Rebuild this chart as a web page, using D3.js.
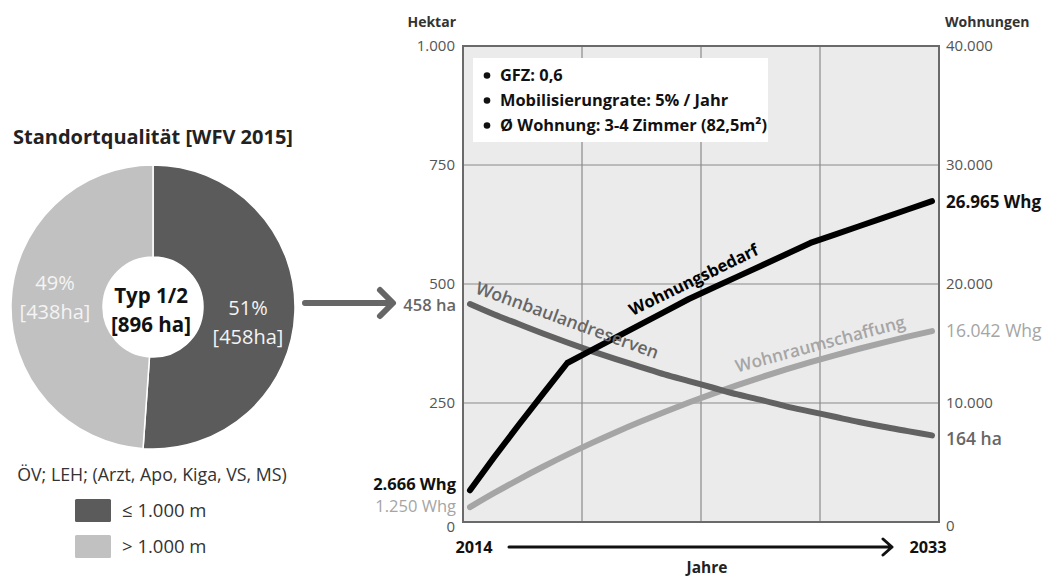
<!DOCTYPE html>
<html><head><meta charset="utf-8">
<script src="https://cdn.jsdelivr.net/npm/d3@7"></script>
<style>
body{margin:0;background:#fff;}
svg{display:block;font-family:"Open Sans",sans-serif;}
</style></head>
<body><svg id="c" width="1048" height="579"></svg>
<script>
// ---------- data ----------
const pieCategories = ["≤ 1.000 m", "> 1.000 m"];
const pieValues = [458, 438];
const piePercents = ["51%", "49%"];
const pieColors = ["#5b5b5b", "#c1c1c1"];

const years = d3.range(2014, 2034);
const wohnungsbedarf = [2666, 5460, 8150, 10760, 13360, 14440, 15510, 16590, 17660, 18740,
                        19680, 20620, 21560, 22500, 23450, 24150, 24850, 25550, 26260, 26965];
const wohnraumschaffung = [1250, 2440, 3570, 4640, 5660, 6630, 7550, 8420, 9250, 10040,
                           10790, 11500, 12180, 12820, 13430, 14010, 14560, 15080, 15580, 16042];
const wohnbaulandreserven = [458, 436, 416, 396, 377, 359, 342, 326, 310, 296,
                             282, 268, 256, 243, 232, 221, 210, 200, 191, 182];
const hektarTicks = [0, 250, 500, 750, 1000];
const wohnungenTicks = [0, 10000, 20000, 30000, 40000];
const notes = ["GFZ: 0,6", "Mobilisierungrate: 5% / Jahr", "Ø Wohnung: 3-4 Zimmer (82,5m²)"];

const de = d3.formatLocale({decimal: ",", thousands: ".", grouping: [3], currency: ["", "€"]});
const fmt = de.format(",d");

const svg = d3.select("#c");

// ---------- donut ----------
const cx = 153, cy = 307, R = 142, r0 = 50;
const pie = d3.pie().sort(null).value(d => d)(pieValues);
const arc = d3.arc().innerRadius(r0).outerRadius(R);
const gP = svg.append("g").attr("transform", `translate(${cx},${cy})`);
gP.selectAll("path").data(pie).join("path")
  .attr("d", arc).attr("fill", (d, i) => pieColors[i])
  .attr("stroke", "#fff").attr("stroke-width", 1.5);
gP.append("circle").attr("r", r0).attr("fill", "#fff");

const labPos = [[95, 1], [-98, -24]];
pie.forEach((d, i) => {
  const t = gP.append("text").attr("text-anchor", "middle").attr("fill", "#f4f4f4")
    .attr("font-size", 20).attr("transform", `translate(${labPos[i][0]},${labPos[i][1]})`);
  t.append("tspan").attr("x", 0).attr("dy", "0.35em").text(piePercents[i]);
  t.append("tspan").attr("x", 0).attr("dy", "1.45em").text(`[${pieValues[i]}ha]`);
});
const ct = gP.append("text").attr("text-anchor", "middle").attr("font-weight", 700).attr("font-size", 20.5).attr("fill", "#111");
ct.append("tspan").attr("x", -2).attr("y", -4).text("Typ 1/2");
ct.append("tspan").attr("x", -2).attr("y", 25).text(`[${d3.sum(pieValues)} ha]`);

svg.append("text").attr("x", cx).attr("y", 144).attr("text-anchor", "middle")
  .attr("font-weight", 700).attr("font-size", 20).attr("fill", "#222")
  .text("Standortqualität [WFV 2015]");
svg.append("text").attr("x", cx - 1).attr("y", 481).attr("text-anchor", "middle")
  .attr("font-size", 17.8).attr("fill", "#333").text("ÖV; LEH; (Arzt, Apo, Kiga, VS, MS)");
pieCategories.forEach((c, i) => {
  const y = 499 + i * 36;
  svg.append("rect").attr("x", 75).attr("y", y).attr("width", 36).attr("height", 23)
    .attr("rx", 1.5).attr("fill", pieColors[i]);
  svg.append("text").attr("x", 122).attr("y", y + 18).attr("font-size", 18.5).attr("fill", "#333").text(c);
});

// arrow from donut to chart
svg.append("path").attr("d", "M305,303 H392 M380,290 L393,303 L380,316")
  .attr("fill", "none").attr("stroke", "#666").attr("stroke-width", 6)
  .attr("stroke-linecap", "round").attr("stroke-linejoin", "round");

// ---------- line chart ----------
const L = 463, Rt = 939, T = 46, B = 522;
const x = d3.scaleLinear().domain([2014, 2033]).range([470, 932]);
const yL = d3.scaleLinear().domain([0, 1000]).range([B, T]);
const yR = d3.scaleLinear().domain([0, 40000]).range([B, T]);
const colScale = d3.scaleLinear().domain([0, 4]).range([L, Rt]);

svg.append("rect").attr("x", L).attr("y", T).attr("width", Rt - L).attr("height", B - T).attr("fill", "#ebebeb");
svg.append("g").selectAll("line").data(hektarTicks.slice(1, -1)).join("line")
  .attr("x1", L).attr("x2", Rt).attr("y1", d => yL(d)).attr("y2", d => yL(d))
  .attr("stroke", "#8a8a8a").attr("stroke-width", 1.2);
svg.append("g").selectAll("line").data([1, 2, 3]).join("line")
  .attr("x1", d => colScale(d)).attr("x2", d => colScale(d)).attr("y1", T).attr("y2", B)
  .attr("stroke", "#8a8a8a").attr("stroke-width", 1.2);

// note box
const box = svg.append("g");
box.append("rect").attr("x", 473).attr("y", 58).attr("width", 295).attr("height", 84).attr("fill", "#fff");
notes.forEach((n, i) => {
  const y = 81 + i * 25;
  box.append("circle").attr("cx", 487).attr("cy", y - 5.5).attr("r", 3.3).attr("fill", "#111");
  box.append("text").attr("x", 500).attr("y", y).attr("font-weight", 700).attr("font-size", 16.4).attr("fill", "#111").text(n);
});

// axes
const axL = svg.append("g").attr("transform", `translate(${L},0)`)
  .call(d3.axisLeft(yL).tickValues(hektarTicks).tickSize(0).tickPadding(8).tickFormat(fmt));
const axR = svg.append("g").attr("transform", `translate(${Rt},0)`)
  .call(d3.axisRight(yR).tickValues(wohnungenTicks).tickSize(0).tickPadding(7).tickFormat(fmt));
[axL, axR].forEach(a => {
  a.select(".domain").remove();
  a.selectAll("text").attr("font-size", 15).attr("fill", "#555").attr("font-family", "Open Sans");
});
axL.selectAll(".tick text").filter(d => d === 0).attr("dy", "0.62em");
axR.selectAll(".tick text").filter(d => d === 0).attr("dy", "0.55em");

svg.append("rect").attr("x", L).attr("y", T).attr("width", Rt - L).attr("height", B - T)
  .attr("fill", "none").attr("stroke", "#6a6a6a").attr("stroke-width", 2);

svg.append("text").attr("x", 456).attr("y", 27).attr("text-anchor", "end").attr("font-weight", 700).attr("font-size", 14).attr("fill", "#333").text("Hektar");
svg.append("text").attr("x", 945).attr("y", 27).attr("font-weight", 700).attr("font-size", 14).attr("fill", "#333").text("Wohnungen");

// lines
const lineR = d3.line().x((d, i) => x(years[i])).y(d => yR(d));
const lineRs = d3.line().x((d, i) => x(years[i])).y(d => yR(d)).curve(d3.curveMonotoneX);
const lineLs = d3.line().x((d, i) => x(years[i])).y(d => yL(d)).curve(d3.curveMonotoneX);
const series = [
  {d: lineRs(wohnraumschaffung), c: "#a5a5a5"},
  {d: lineLs(wohnbaulandreserven), c: "#626262"},
  {d: lineR(wohnungsbedarf), c: "#000"}
];
svg.append("g").selectAll("path").data(series).join("path")
  .attr("d", d => d.d).attr("fill", "none").attr("stroke", d => d.c)
  .attr("stroke-width", 6).attr("stroke-linecap", "round").attr("stroke-linejoin", "round");

// end labels
const n = years.length - 1;
const endLabels = [
  {x: 456, y: yR(wohnungsbedarf[0]) - 6, a: "end", t: fmt(wohnungsbedarf[0]) + " Whg", c: "#111", w: 700, s: 16.5},
  {x: 456, y: yR(wohnraumschaffung[0]) - 1, a: "end", t: fmt(wohnraumschaffung[0]) + " Whg", c: "#a5a5a5", w: 400, s: 16.5},
  {x: 456, y: yL(wohnbaulandreserven[0]) + 1, a: "end", t: wohnbaulandreserven[0] + " ha", c: "#666", w: 600, s: 16.5},
  {x: 946, y: yR(wohnungsbedarf[n]) + 1, a: "start", t: fmt(wohnungsbedarf[n]) + " Whg", c: "#111", w: 700, s: 17},
  {x: 946, y: yR(wohnraumschaffung[n]), a: "start", t: fmt(wohnraumschaffung[n]) + " Whg", c: "#a5a5a5", w: 400, s: 17.5},
  {x: 946, y: yL(wohnbaulandreserven[n]) + 4, a: "start", t: "164 ha", c: "#666", w: 600, s: 17.5}
];
svg.append("g").selectAll("text").data(endLabels).join("text")
  .attr("x", d => d.x).attr("y", d => d.y).attr("dy", "0.35em").attr("text-anchor", d => d.a)
  .attr("font-size", d => d.s).attr("font-weight", d => d.w).attr("fill", d => d.c).text(d => d.t);

// curve names
const names = [
  {t: "Wohnbaulandreserven", x: x(2018.0), y: yL(424), r: 20, c: "#666", w: 600, s: 17.5},
  {t: "Wohnungsbedarf", x: x(2023.2), y: yR(20350), r: -26, c: "#000", w: 700, s: 16.5},
  {t: "Wohnraumschaffung", x: x(2028.4), y: yR(14960), r: -15, c: "#a5a5a5", w: 600, s: 17.2}
];
svg.append("g").selectAll("text").data(names).join("text")
  .attr("transform", d => `translate(${d.x},${d.y}) rotate(${d.r})`)
  .attr("text-anchor", "middle").attr("dy", "0.35em")
  .attr("font-size", d => d.s).attr("font-weight", d => d.w).attr("fill", d => d.c).text(d => d.t);

// x axis annotation
svg.append("text").attr("x", 474).attr("y", 553).attr("text-anchor", "middle").attr("font-weight", 700).attr("font-size", 16.3).attr("fill", "#111").text(years[0]);
svg.append("text").attr("x", 928).attr("y", 553).attr("text-anchor", "middle").attr("font-weight", 700).attr("font-size", 16.3).attr("fill", "#111").text(years[n]);
svg.append("path").attr("d", "M509,547 H892 M883,539 L892,547 L883,555")
  .attr("fill", "none").attr("stroke", "#111").attr("stroke-width", 3).attr("stroke-linejoin", "round").attr("stroke-linecap", "round");
svg.append("text").attr("x", 707).attr("y", 573).attr("text-anchor", "middle").attr("font-weight", 700).attr("font-size", 15.5).attr("fill", "#222").text("Jahre");
</script></body></html>
